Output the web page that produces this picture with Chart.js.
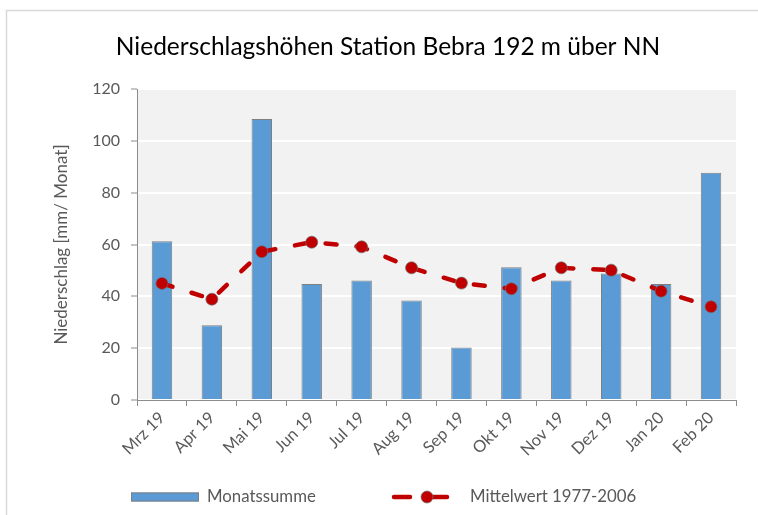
<!DOCTYPE html>
<html><head><meta charset="utf-8">
<script src="https://cdn.jsdelivr.net/npm/chart.js@4.4.0/dist/chart.umd.min.js"></script>
<style>html,body{margin:0;padding:0;background:#fff;} #wrap{width:758px;height:515px;position:relative}</style>
</head><body><div id="wrap"><canvas id="c" width="758" height="515"></canvas></div>
<script>
const categories = ['Mrz 19','Apr 19','Mai 19','Jun 19','Jul 19','Aug 19','Sep 19','Okt 19','Nov 19','Dez 19','Jan 20','Feb 20'];
const monatssumme = [61.3, 28.8, 108.4, 44.8, 46.1, 38.4, 20.3, 51.2, 46.1, 48.8, 44.8, 87.7];
const mittelwert = [45.0, 38.9, 57.2, 60.9, 59.1, 51.0, 45.1, 42.9, 51.0, 50.1, 42.0, 36.0];
const yTicks = [0, 20, 40, 60, 80, 100, 120];
const chartTitle = 'Niederschlagshöhen Station Bebra 192 m über NN';
const yTitle = 'Niederschlag [mm/ Monat]';
const seriesNames = ['Monatssumme', 'Mittelwert 1977-2006'];

const TXT = '#595959', AX = '#8c8c8c';
Chart.defaults.font.family = 'Lato, "Open Sans", sans-serif';

const frame = {
  id: 'frame',
  beforeDraw(chart) {
    const {ctx, chartArea: a} = chart;
    ctx.save();
    ctx.fillStyle = '#ffffff';
    ctx.fillRect(0, 0, chart.width, chart.height);
    ctx.strokeStyle = '#d9d9d9';
    ctx.lineWidth = 1.5;
    ctx.strokeRect(6.5, 10.5, 900, 700);
    ctx.fillStyle = '#f2f2f2';
    ctx.fillRect(a.left, a.top, a.right - a.left, a.bottom - a.top);
    ctx.restore();
  }
};

const customLegend = {
  id: 'customLegend',
  afterDraw(chart) {
    const {ctx} = chart;
    const ds = chart.data.datasets;
    const y = 497;
    ctx.save();
    ctx.font = '16.8px ' + Chart.defaults.font.family;
    ctx.textBaseline = 'middle';
    // bar item
    ctx.fillStyle = ds[0].backgroundColor;
    ctx.fillRect(131, y - 4.5, 68, 9);
    ctx.strokeStyle = ds[0].borderColor;
    ctx.lineWidth = 1;
    ctx.strokeRect(131.5, y - 4, 67, 8);
    ctx.fillStyle = TXT;
    ctx.fillText(ds[0].label, 207, y);
    // line item
    ctx.strokeStyle = ds[1].borderColor;
    ctx.lineWidth = ds[1].borderWidth;
    ctx.lineCap = 'round';
    ctx.beginPath(); ctx.moveTo(394, y); ctx.lineTo(410, y); ctx.stroke();
    ctx.beginPath(); ctx.moveTo(430, y); ctx.lineTo(447, y); ctx.stroke();
    ctx.beginPath(); ctx.arc(427, y, ds[1].pointRadius, 0, Math.PI * 2);
    ctx.fillStyle = ds[1].pointBackgroundColor; ctx.fill();
    ctx.lineWidth = 1; ctx.strokeStyle = ds[1].pointBorderColor; ctx.stroke();
    ctx.fillStyle = TXT;
    ctx.fillText(ds[1].label, 470, y);
    ctx.restore();
  }
};

new Chart(document.getElementById('c'), {
  data: {
    labels: categories,
    datasets: [
      {
        type: 'bar', label: seriesNames[0], data: monatssumme, order: 1,
        backgroundColor: '#5b9bd5', borderColor: '#7f7f7f', borderWidth: 1,
        barPercentage: 0.41, categoryPercentage: 1.0
      },
      {
        type: 'line', label: seriesNames[1], data: mittelwert, order: 0,
        borderColor: '#c00000', borderWidth: 4.5, borderDash: [11, 20], borderCapStyle: 'round',
        tension: 0, fill: false,
        pointRadius: 6, pointHoverRadius: 6, pointBackgroundColor: '#c00000',
        pointBorderColor: 'rgba(110,110,110,0.7)', pointBorderWidth: 1
      }
    ]
  },
  options: {
    responsive: false, animation: false, devicePixelRatio: 1,
    layout: {padding: {left: 40, right: 22, top: 0, bottom: 45}},
    plugins: {
      legend: {display: false},
      tooltip: {enabled: false},
      title: {
        display: true, text: chartTitle, color: '#000',
        font: {size: 24.5, weight: 'normal'},
        padding: {top: 32.3, bottom: 27.3}
      }
    },
    scales: {
      x: {
        type: 'category', offset: true,
        grid: {offset: true, drawOnChartArea: false, drawTicks: true, tickLength: 6, tickColor: AX},
        border: {color: AX, width: 1},
        ticks: {minRotation: 45, maxRotation: 45, autoSkip: false, color: TXT, font: {size: 16.5}, padding: 2},
        afterFit(s) { s.height = 70; }
      },
      y: {
        min: 0, max: 120,
        afterBuildTicks(s) { s.ticks = yTicks.map(v => ({value: v})); },
        grid: {color: '#ffffff', lineWidth: 2, tickColor: AX, tickWidth: 1, tickLength: 6},
        border: {color: AX, width: 1},
        ticks: {color: TXT, font: {size: 16}, padding: 11},
        title: {display: true, text: yTitle, color: TXT, font: {size: 17}, padding: {top: 11.8, bottom: 0}},
        afterFit(s) { s.width = 97; }
      }
    }
  },
  plugins: [frame, customLegend]
});
</script></body></html>
